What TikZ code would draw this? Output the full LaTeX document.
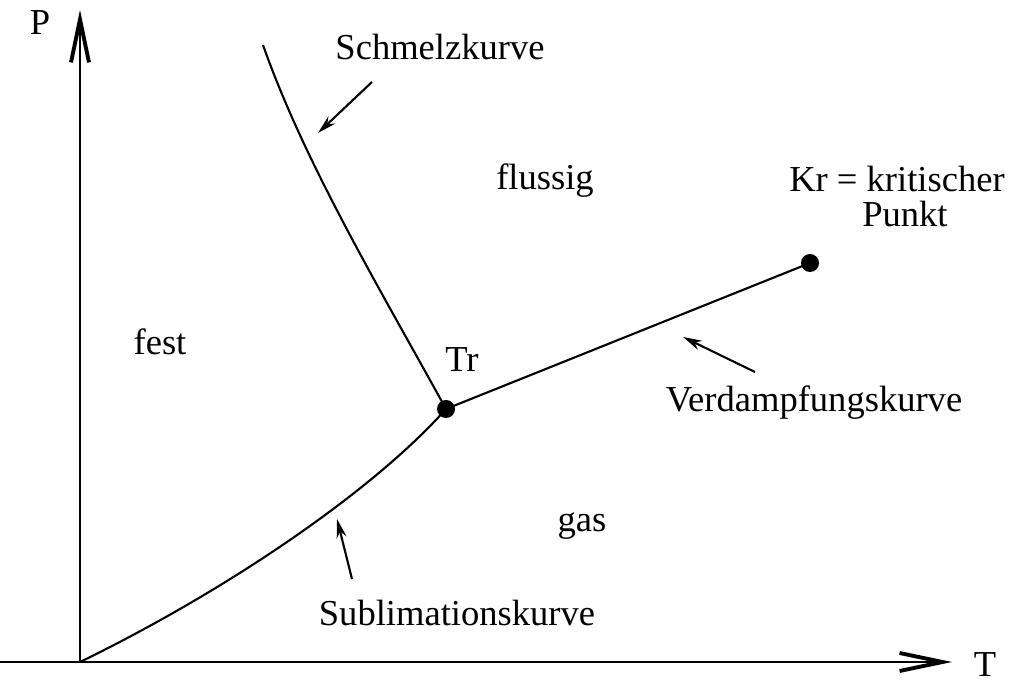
\documentclass[tikz,border=0pt]{standalone}
\usepackage{fontspec}
\setmainfont{Liberation Serif}
\usepackage{tikz}
\usetikzlibrary{arrows.meta, positioning}

\begin{document}
\begin{tikzpicture}[
    lbl/.style={anchor=base, inner sep=0pt, font=\fontsize{10.4}{10}\selectfont},
    axis/.style={line width=0.75pt, -{Straight Barb[length=4.3mm, width=1.8mm, line width=1.1pt]}},
    curve/.style={line width=0.6pt},
    hint/.style={line width=0.6pt, -{Stealth[open, length=1.9mm, width=1mm]}},
    dot/.style={circle, fill, inner sep=0pt, minimum size=1.8mm}]
  \useasboundingbox (0,0) rectangle (10.10,6.84);
  % axes
  \coordinate (o) at (0.80,0.22);
  \coordinate (ptop) at (0.80,6.74);
  \coordinate (tleft) at (0,0.22);
  \coordinate (tright) at (9.52,0.22);
  \draw[axis] (o) -- (ptop);
  \draw[axis] (tleft) -- (tright);
  \node[lbl] (plabel) at (0.40,6.49) {P};
  \node[lbl] (tlabel) at (9.85,0.07) {T};
  % triple and critical point
  \node[dot] (tr) at (4.46,2.75) {};
  \node[dot] (kr) at (8.10,4.21) {};
  % phase boundaries
  \coordinate (stop) at (2.63,6.39);
  \draw[curve] (stop) .. controls (3.05,5.20) and (3.80,3.95) .. (tr.center);
  \draw[curve] (o) .. controls (2.30,0.95) and (3.75,1.95) .. (tr.center);
  \draw[curve] (tr.center) -- (kr.center);
  % phases
  \node[lbl] (fest) at (1.60,3.29) {fest};
  \node[lbl] (flussig) at (5.45,4.94) {flussig};
  \node[lbl] (gas) at (5.82,1.52) {gas};
  \node[lbl] (trlabel) at (4.62,3.12) {Tr};
  \node[lbl, align=center] (krlabel) at (8.97,4.57) {Kr = kritischer\\ \hspace*{0.16cm}Punkt};
  % curve names
  \node[lbl] (schmelz) at (4.40,6.24) {Schmelzkurve};
  \node[lbl] (verdampf) at (8.14,2.72) {Verdampfungskurve};
  \node[lbl] (sublim) at (4.57,0.59) {Sublimationskurve};
  \coordinate (s1) at (3.72,6.02);
  \coordinate (s2) at (3.18,5.51);
  \coordinate (v1) at (7.55,3.12);
  \coordinate (v2) at (6.83,3.47);
  \coordinate (u1) at (3.52,1.05);
  \coordinate (u2) at (3.37,1.65);
  \draw[hint] (s1) -- (s2);
  \draw[hint] (v1) -- (v2);
  \draw[hint] (u1) -- (u2);
\end{tikzpicture}
\end{document}
